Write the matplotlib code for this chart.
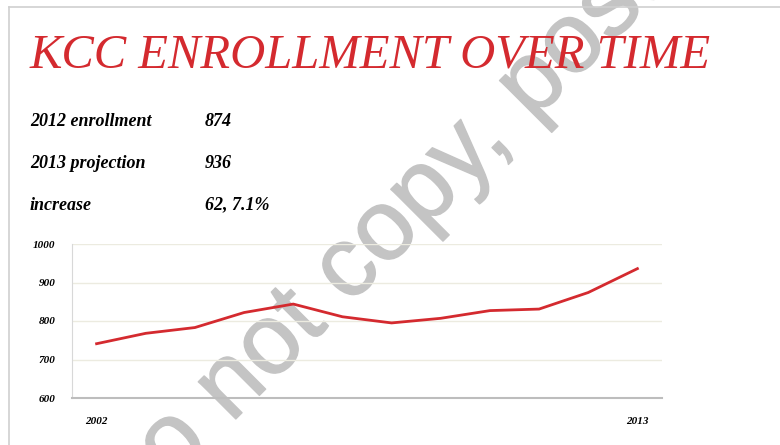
import matplotlib
matplotlib.use('Agg')
import matplotlib.pyplot as plt
import matplotlib.patheffects as pe
from matplotlib.lines import Line2D

# ── data ──────────────────────────────────────
years = [2002, 2003, 2004, 2005, 2006, 2007, 2008, 2009, 2010, 2011, 2012, 2013]
enrollment = [741, 768, 783, 822, 844, 811, 795, 807, 827, 831, 874, 936]
y_ticks = [600, 700, 800, 900, 1000]
x_labels = ['2002', '', '', '', '', '', '', '', '', '', '', '2013']

stat_names = ['2012 enrollment', '2013 projection', 'increase']
stat_values = ['874', '936', '62, 7.1%']

RED = '#d42a2f'
SCRIPT = 'Liberation Serif'

fig = plt.figure(figsize=(7.8, 4.45), dpi=100)

# slide frame (top and left edges)
fig.add_artist(Line2D([9/780, 1], [1 - 7/445, 1 - 7/445], color='#d0d0d0', lw=1.2))
fig.add_artist(Line2D([9/780, 9/780], [0, 1 - 7/445], color='#d0d0d0', lw=1.2))

# title
fig.text(30/780, 1 - 56/445, 'KCC ENROLLMENT OVER TIME', color=RED,
         fontsize=35, family=SCRIPT, style='italic', va='center', ha='left')

# stats block
for i, (name, val) in enumerate(zip(stat_names, stat_values)):
    yy = 1 - (121 + i * 42) / 445
    fig.text(30/780, yy, name, fontsize=13, family=SCRIPT, style='italic',
             fontweight='bold', va='center')
    fig.text(205/780, yy, val, fontsize=13, family=SCRIPT, style='italic',
             fontweight='bold', va='center')

# chart
ax = fig.add_axes([72/780, 47/445, 590/780, 154/445])
ax.patch.set_alpha(0)
idx = list(range(len(years)))
ax.plot(idx, enrollment, color=RED, lw=2, solid_joinstyle='round')
ax.set_xlim(-0.5, len(years) - 0.5)
ax.set_ylim(600, 1000)
ax.set_yticks(y_ticks)
ax.set_yticklabels([str(t) for t in y_ticks], family=SCRIPT, style='italic',
                   fontsize=8, fontweight='bold')
ax.set_xticks(idx)
ax.set_xticklabels(x_labels, family=SCRIPT, style='italic', fontsize=8,
                   fontweight='bold')
ax.tick_params(length=0)
ax.tick_params(axis='y', pad=12)
ax.tick_params(axis='x', pad=14)
ax.yaxis.grid(True, color='#ecebe0', lw=1)
ax.set_axisbelow(True)
for s in ['top', 'right']:
    ax.spines[s].set_visible(False)
ax.spines['left'].set_color('#d8d8d8')
ax.spines['bottom'].set_color('#bdbdbd')
ax.spines['bottom'].set_linewidth(1.5)

# watermark (behind the chart line)
WM = '#c4c4c4'
fig.text(375/780, 1 - 243/445, 'Do not copy, post', fontsize=72,
         family='Liberation Sans', color=WM, zorder=-1,
         rotation=45, ha='center', va='center',
         path_effects=[pe.Stroke(linewidth=1.0, foreground=WM)])

fig.savefig('out.png', dpi=100)
